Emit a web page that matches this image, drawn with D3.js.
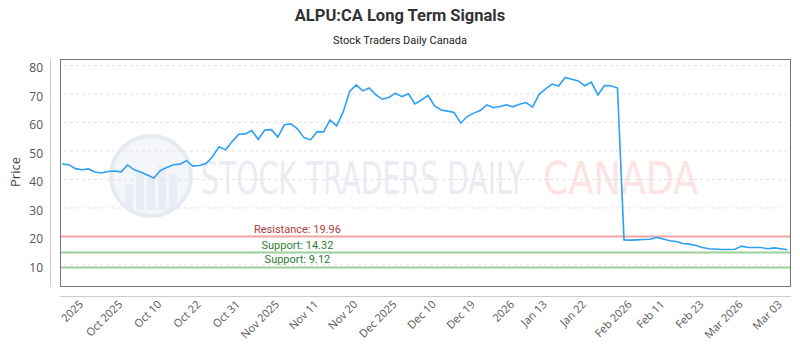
<!doctype html>
<html lang="en">
<head>
<meta charset="UTF-8">
<title>ALPU:CA Long Term Signals</title>
<script src="https://d3js.org/d3.v7.min.js"></script>
<style>
    body { margin: 0; background: #fff; }
    .title { font: bold 16.5px Roboto, sans-serif; fill: #333; }
    .subtitle { font: 11px Roboto, sans-serif; fill: #222; }
    .tick-y { font: 12px 'Open Sans', sans-serif; fill: #555; }
    .tick-x { font: 11px 'Open Sans', sans-serif; fill: #555; }
    .grid { stroke: #e2e2e2; stroke-dasharray: 3,3; }
    .price { fill: none; stroke: #2ea0f4; stroke-width: 1.6px; }
    .level-label { font: 11px Roboto, sans-serif; }
</style>
</head>
<body>
<script>
// closing prices, one per session
const prices = [
    45.4, 45.2, 43.8, 43.4, 43.7, 42.6, 42.3, 42.8, 43.0, 42.7,
    45.1, 43.4, 42.6, 41.6, 40.5, 43.1, 44.2, 45.2, 45.4, 46.6,
    44.7, 44.9, 45.6, 48.0, 51.5, 50.4, 53.3, 55.9, 56.0, 57.2,
    54.1, 57.4, 57.5, 54.9, 59.2, 59.5, 57.8, 54.7, 53.9, 56.8,
    56.7, 60.9, 58.8, 63.7, 70.9, 73.2, 71.1, 72.1, 69.7, 68.2,
    68.8, 70.3, 69.1, 70.1, 66.5, 67.9, 69.5, 65.8, 64.4, 64.0,
    63.5, 59.8, 62.1, 63.3, 64.2, 66.2, 65.2, 65.6, 66.2, 65.5,
    66.4, 67.0, 65.4, 69.9, 71.8, 73.5, 72.8, 75.8, 75.2, 74.6,
    72.9, 74.2, 69.7, 73.0, 72.9, 72.1, 18.8, 18.7, 18.8, 18.9,
    19.0, 19.6, 19.1, 18.5, 18.2, 17.5, 17.3, 16.8, 16.1, 15.7,
    15.6, 15.4, 15.4, 15.5, 16.6, 16.1, 16.1, 16.1, 15.7, 16.0,
    15.7, 15.3
];

// x axis labels and the session index each one sits on
const tickIndex = [3, 9, 15, 21, 27, 33, 39, 45, 51, 57, 63, 69, 74, 80, 87, 92, 98, 104, 110];
const tickLabels = ['2025', 'Oct 2025', 'Oct 10', 'Oct 22', 'Oct 31', 'Nov 2025', 'Nov 11', 'Nov 20',
    'Dec 2025', 'Dec 10', 'Dec 19', '2026', 'Jan 13', 'Jan 22', 'Feb 2026', 'Feb 11', 'Feb 23',
    'Mar 2026', 'Mar 03'];

const yTicks = [10, 20, 30, 40, 50, 60, 70, 80];

const levelNames = ['Resistance', 'Support', 'Support'];
const levelValues = [19.96, 14.32, 9.12];
const levelLine = ['#f4a3a3', '#9bd09b', '#9bd09b'];
const levelText = ['#b23b3b', '#2e7d32', '#2e7d32'];

const width = 800,
      height = 350;

const plot = {left: 60, right: 790, top: 59, bottom: 286};

const svg = d3.select('body').append('svg')
    .attr('width', width)
    .attr('height', height);

const x = d3.scaleLinear()
    .domain([0, prices.length - 1])
    .range([62.3, 787.3]);

const y = d3.scaleLinear()
    .domain([2.6, 82.3])
    .range([plot.bottom, plot.top]);

// titles
svg.append('text').attr('class', 'title')
    .attr('x', 400).attr('y', 21)
    .attr('text-anchor', 'middle')
    .text('ALPU:CA Long Term Signals');

svg.append('text').attr('class', 'subtitle')
    .attr('x', 400).attr('y', 44)
    .attr('text-anchor', 'middle')
    .text('Stock Traders Daily Canada');

// watermark
const wm = svg.append('g').attr('class', 'watermark');
wm.append('circle')
    .attr('cx', 151).attr('cy', 176).attr('r', 40)
    .attr('fill', '#f4f6fa')
    .attr('stroke', '#e6eaf1')
    .attr('stroke-width', 4);
[[-22, 8], [-11, -4], [0, 2], [11, -10], [22, -2]].forEach(function(b) {
    wm.append('rect')
        .attr('x', 151 + b[0] - 4).attr('y', 176 + b[1])
        .attr('width', 8).attr('height', 34 - b[1])
        .attr('fill', '#e9edf3');
});

// squeeze the words to the width they take in the picture
function wmText(str, left, w, colour) {
    const t = wm.append('text')
        .style('font', '44px "DejaVu Sans Condensed", sans-serif')
        .style('fill', colour)
        .text(str);
    const natural = t.node().getComputedTextLength();
    t.attr('transform', 'translate(' + left + ',194) scale(' + (w / natural) + ',1)');
}
wmText('STOCK TRADERS DAILY', 201, 324, '#e9edf3');
wmText('CANADA', 543, 155, '#fde3e3');

// grid
svg.selectAll('.grid')
    .data(yTicks)
    .enter().append('line')
    .attr('class', 'grid')
    .attr('x1', 64).attr('x2', 786)
    .attr('y1', d => y(d)).attr('y2', d => y(d));

// support / resistance
levelValues.forEach(function(v, i) {
    svg.append('line')
        .attr('x1', plot.left).attr('x2', plot.right)
        .attr('y1', y(v)).attr('y2', y(v))
        .style('stroke', levelLine[i])
        .style('stroke-width', 2);
    svg.append('text')
        .attr('class', 'level-label')
        .attr('x', x(36)).attr('y', y(v) - 4)
        .attr('text-anchor', 'middle')
        .style('fill', levelText[i])
        .text(levelNames[i] + ': ' + v.toFixed(2));
});

// price line
const line = d3.line()
    .x((d, i) => x(i))
    .y(d => y(d));

svg.append('path')
    .datum(prices)
    .attr('class', 'price')
    .attr('d', line);

// frame
svg.append('rect')
    .attr('x', plot.left + 0.5).attr('y', plot.top + 0.5)
    .attr('width', plot.right - plot.left).attr('height', plot.bottom - plot.top)
    .attr('fill', 'none')
    .attr('stroke', '#777');

// y axis
svg.append('line')
    .attr('x1', 50.5).attr('x2', 50.5)
    .attr('y1', plot.top).attr('y2', plot.bottom + 1)
    .attr('stroke', '#ccc');

svg.selectAll('.tick-y')
    .data(yTicks)
    .enter().append('text')
    .attr('class', 'tick-y')
    .attr('x', 43).attr('y', d => y(d) + 2.5)
    .attr('dy', '0.35em')
    .attr('text-anchor', 'end')
    .text(d => d);

svg.append('text')
    .attr('transform', 'translate(20,172) rotate(-90)')
    .attr('text-anchor', 'middle')
    .style('font', '13px "Open Sans", sans-serif')
    .style('fill', '#444')
    .text('Price');

// x axis
svg.append('line')
    .attr('x1', plot.left).attr('x2', plot.right + 1)
    .attr('y1', 296.5).attr('y2', 296.5)
    .attr('stroke', '#ccc');

svg.selectAll('.tick-x')
    .data(tickIndex)
    .enter().append('text')
    .attr('class', 'tick-x')
    .attr('transform', d => 'translate(' + (x(d) + 2) + ',305) rotate(-45)')
    .attr('text-anchor', 'end')
    .text((d, i) => tickLabels[i]);
</script>
</body>
</html>
